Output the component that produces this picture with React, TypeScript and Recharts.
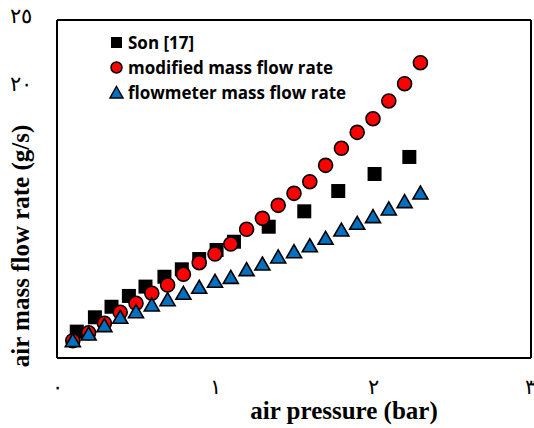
import {
  ScatterChart,
  Scatter,
  XAxis,
  YAxis,
  ReferenceLine,
  Legend,
} from "recharts";

// Son [17] reference points
const sonPressure = [0.125, 0.24, 0.345, 0.455, 0.56, 0.68, 0.79, 0.9, 1.01, 1.12, 1.34, 1.565, 1.78, 2.01, 2.23];
const sonFlow = [1.95, 3.01, 3.79, 4.59, 5.28, 6.01, 6.56, 7.32, 7.99, 8.6, 9.71, 10.85, 12.35, 13.61, 14.87];

// measured pressures for the two test series
const pressure = [0.1, 0.2, 0.3, 0.4, 0.5, 0.6, 0.7, 0.8, 0.9, 1.0, 1.1, 1.2, 1.3, 1.4, 1.5, 1.6, 1.7, 1.8, 1.9, 2.0, 2.1, 2.2, 2.3];
const modifiedFlow = [1.28, 1.87, 2.57, 3.38, 4.05, 4.79, 5.4, 6.19, 7.05, 7.69, 8.43, 9.52, 10.33, 11.29, 12.18, 13.04, 14.25, 15.51, 16.69, 17.7, 19.01, 20.29, 21.84];
const flowmeterFlow = [1.21, 1.7, 2.32, 2.94, 3.35, 3.85, 4.24, 4.71, 5.16, 5.6, 5.89, 6.46, 6.88, 7.4, 7.79, 8.23, 8.78, 9.39, 9.89, 10.38, 10.95, 11.49, 12.13];

const xTicks = [0, 1, 2, 3];
const xTickLabels = ["٠", "١", "٢", "٣"];
const yTicks = [20, 25];
const yTickLabels = ["٢٠", "٢٥"];

const seriesNames = ["Son [17]", "modified mass flow rate", "flowmeter mass flow rate"];

const sonData = sonPressure.map((p, i) => ({ p, f: sonFlow[i] }));
const modifiedData = pressure.map((p, i) => ({ p, f: modifiedFlow[i] }));
const flowmeterData = pressure.map((p, i) => ({ p, f: flowmeterFlow[i] }));

const BLUE = "#0070C0";
const RED = "#FF0000";
const SERIF = "'Liberation Serif', 'Times New Roman', serif";

const SquareDot = ({ cx, cy }: any) => (
  <rect x={cx - 7} y={cy - 7} width={14} height={14} fill="#000" />
);

const CircleDot = ({ cx, cy }: any) => (
  <circle cx={cx} cy={cy} r={7} fill={RED} stroke="#000" strokeWidth={1.6} />
);

const TriangleDot = ({ cx, cy }: any) => (
  <polygon
    points={`${cx},${cy - 8} ${cx + 7.5},${cy + 5} ${cx - 7.5},${cy + 5}`}
    fill={BLUE}
    stroke="#000"
    strokeWidth={1.6}
  />
);

const XTick = ({ x, y, payload }: any) => (
  <text x={x} y={y + 28} textAnchor="middle" fontSize={21} fill="#000" fontFamily={SERIF}>
    {xTickLabels[xTicks.indexOf(payload.value)]}
  </text>
);

const YTick = ({ y, payload }: any) => (
  <text x={21} y={y + 3} textAnchor="middle" fontSize={21} fill="#000" fontFamily={SERIF}>
    {yTickLabels[yTicks.indexOf(payload.value)]}
  </text>
);

const legendIcons = [
  <rect key="s" x={2} y={2} width={11} height={11} fill="#000" />,
  <circle key="c" cx={7.5} cy={7.5} r={5.5} fill={RED} stroke="#000" strokeWidth={1.5} />,
  <polygon key="t" points="7.5,1.5 14,13 1,13" fill={BLUE} stroke="#000" strokeWidth={1.4} />,
];

const LegendBox = () => (
  <div style={{ fontFamily: "'Open Sans', Lato, sans-serif", fontWeight: 700, fontSize: 17, color: "#000" }}>
    {seriesNames.map((name, i) => (
      <div key={name} style={{ display: "flex", alignItems: "center", height: 25 }}>
        <svg width={15} height={15} style={{ marginRight: 4 }}>
          {legendIcons[i]}
        </svg>
        <span>{name}</span>
      </div>
    ))}
  </div>
);

export default function App() {
  return (
    <div style={{ position: "absolute", left: 0, top: 0, width: 534, height: 428, background: "#fff" }}>
      <ScatterChart width={534} height={428} margin={{ top: 20, right: 3, bottom: 40, left: 17 }}>
        <XAxis
          type="number"
          dataKey="p"
          domain={[0, 3]}
          ticks={xTicks}
          tick={<XTick />}
          tickLine={false}
          axisLine={{ stroke: "#000", strokeWidth: 2 }}
          height={30}
        />
        <YAxis
          type="number"
          dataKey="f"
          domain={[0, 25]}
          ticks={yTicks}
          tick={<YTick />}
          tickLine={false}
          axisLine={{ stroke: "#000", strokeWidth: 2 }}
          width={40}
        />
        <ReferenceLine y={25} stroke="#000" strokeWidth={2} />
        <ReferenceLine x={3} stroke="#000" strokeWidth={2} />
        <Legend
          layout="vertical"
          align="center"
          verticalAlign="middle"
          content={<LegendBox />}
          wrapperStyle={{ left: 109, top: 30, width: 300 }}
        />
        <Scatter name={seriesNames[0]} data={sonData} shape={<SquareDot />} isAnimationActive={false} />
        <Scatter name={seriesNames[1]} data={modifiedData} shape={<CircleDot />} isAnimationActive={false} />
        <Scatter name={seriesNames[2]} data={flowmeterData} shape={<TriangleDot />} isAnimationActive={false} />
        <text x={344} y={419} textAnchor="middle" fontSize={25} fontWeight={700} fill="#000" fontFamily={SERIF}>
          air pressure (bar)
        </text>
        <text
          x={0}
          y={0}
          transform="translate(29, 246) rotate(-90)"
          textAnchor="middle"
          fontSize={25}
          fontWeight={700}
          fill="#000"
          fontFamily={SERIF}
        >
          air mass flow rate (g/s)
        </text>
      </ScatterChart>
    </div>
  );
}
